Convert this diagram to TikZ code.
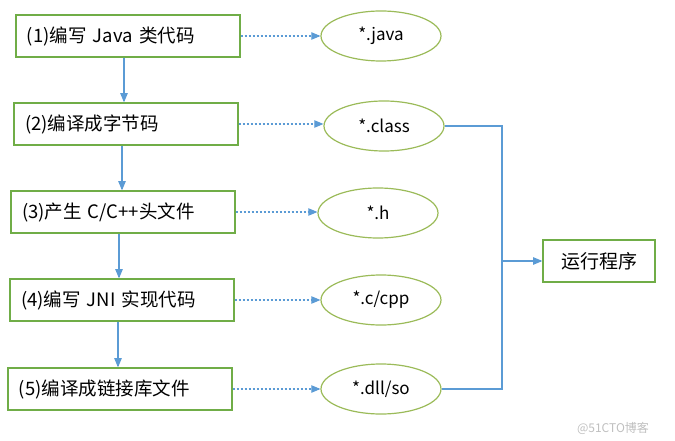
\documentclass[tikz,border=0pt]{standalone}
\usepackage{fontspec}
\setmainfont{Noto Sans CJK SC}
\usepackage{xcolor}
\usetikzlibrary{arrows,shapes.geometric}

\definecolor{boxgreen}{RGB}{112,173,71}
\definecolor{ellgreen}{RGB}{155,187,89}
\definecolor{flowblue}{RGB}{91,155,213}

\begin{document}
\begin{tikzpicture}[x=1pt,y=-1pt]
\tikzset{stepbox/.style={draw=boxgreen,line width=1.4pt,text width=202pt,align=left,
  inner xsep=11pt,minimum height=42pt,font=\fontsize{18.5}{21}\selectfont}}
\tikzset{filenode/.style={ellipse,draw=ellgreen,line width=1.2pt,minimum width=120pt,
  minimum height=50pt,font=\fontsize{17}{20}\selectfont}}
\tikzset{flow/.style={draw=flowblue,line width=1.1pt}}
\tikzset{gen/.style={flow,dashed,dash pattern=on 2.5pt off 1.5pt,-triangle 45}}

\useasboundingbox (0,0) rectangle (675,441);

% steps
\node[stepbox] (s1) at (128,36) {(1)编写 Java 类代码};
\node[stepbox] (s2) at (126,124) {(2)编译成字节码};
\node[stepbox] (s3) at (123,212) {(3)产生 C/C++头文件};
\node[stepbox] (s4) at (122,300) {(4)编写 JNI 实现代码};
\node[stepbox] (s5) at (120,389) {(5)编译成链接库文件};

% files
\node[filenode] (e1) at (381,36) {*.java};
\node[filenode] (e2) at (384,126) {*.class};
\node[filenode] (e3) at (378,213) {*.h};
\node[filenode] (e4) at (381,300) {*.c/cpp};
\node[filenode] (e5) at (381,389) {*.dll/so};

\node[draw=boxgreen,line width=1.4pt,minimum width=112pt,minimum height=42pt,
  font=\fontsize{19}{22}\selectfont] (run) at (599,261) {运行程序};

\foreach \a/\b in {s1/s2,s2/s3,s3/s4,s4/s5}
  \draw[flow,-triangle 45] ([xshift=-4pt]\a.south) -- ([xshift=-4pt]\a.south |- \b.north);
\foreach \i in {1,...,5}
  \draw[gen] (s\i.east) -- (s\i.east -| e\i.west);

\coordinate (join) at (502,261);
\draw[flow] (e2.east) -| (join);
\draw[flow] (e5.east) -| (join);
\draw[flow,-triangle 45] (join) -- (run.west);

\node[text=black!25,font=\fontsize{12}{14}\selectfont] (mark) at (613,428) {@51CTO博客};
\end{tikzpicture}
\end{document}
